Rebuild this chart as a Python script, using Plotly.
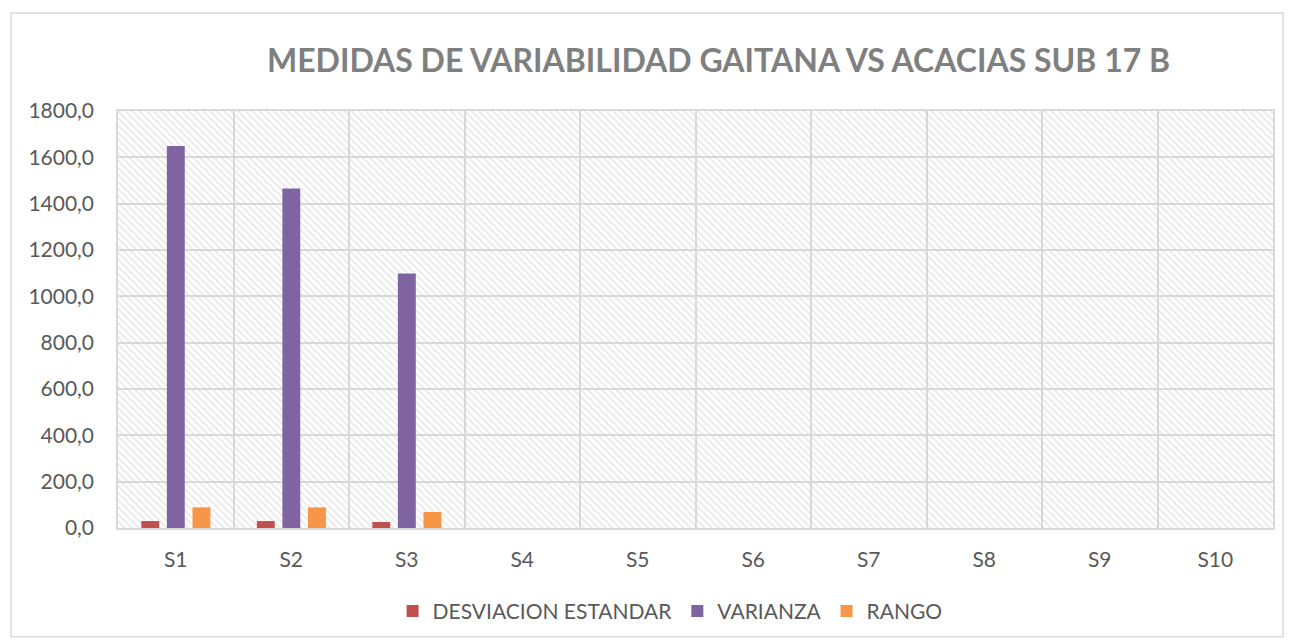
import plotly.graph_objects as go

categories = ["S1", "S2", "S3", "S4", "S5", "S6", "S7", "S8", "S9", "S10"]
desviacion = [30, 30, 26, None, None, None, None, None, None, None]
varianza = [1649, 1466, 1099, None, None, None, None, None, None, None]
rango = [89, 89, 69, None, None, None, None, None, None, None]
y_ticks = [0, 200, 400, 600, 800, 1000, 1200, 1400, 1600, 1800]

series = [
    ("DESVIACION ESTANDAR", desviacion, "#C0504D", -0.298),
    ("VARIANZA", varianza, "#8064A2", -0.077),
    ("RANGO", rango, "#F79646", 0.145),
]

fig = go.Figure()

# hatched plot-area background
fig.add_trace(go.Bar(
    x=categories, y=[max(y_ticks)] * len(categories), width=1.0, offset=-0.5,
    marker=dict(color="rgba(0,0,0,0)", line=dict(width=0),
                pattern=dict(shape="\\", fgcolor="#d4d4d4", bgcolor="rgba(0,0,0,0)",
                             size=5, solidity=0.35)),
    showlegend=False, hoverinfo="skip",
))

for name, vals, color, off in series:
    fig.add_trace(go.Bar(
        x=categories, y=vals, name=name, width=0.155, offset=off,
        marker=dict(color=color, line=dict(width=0)),
    ))

fig.update_layout(
    width=1290, height=644,
    barmode="overlay",
    separators=",.",
    paper_bgcolor="white", plot_bgcolor="white",
    margin=dict(l=118, r=17, t=111, b=116),
    title=dict(text="<b>MEDIDAS DE VARIABILIDAD GAITANA VS ACACIAS SUB 17 B</b>",
               x=0.557, xanchor="center", y=0.906, yanchor="middle",
               font=dict(family="Lato", size=32, color="#7f7f7f")),
    legend=dict(orientation="h", x=0.478, xanchor="center", y=-0.2, yanchor="middle",
                font=dict(family="Lato", size=21, color="#595959"),
                traceorder="normal", itemwidth=30),
    xaxis=dict(type="category", categoryorder="array", categoryarray=categories,
               tickson="boundaries", showgrid=True, gridcolor="#d9d9d9", gridwidth=1.5,
               showline=True, linecolor="#d9d9d9", linewidth=1.5, mirror=True,
               ticks="", ticklabelstandoff=12,
               tickfont=dict(family="Lato", size=21, color="#595959"),
               range=[-0.5, 9.5]),
    yaxis=dict(range=[0, 1800], tickvals=y_ticks, tickformat=".1f",
               showgrid=True, gridcolor="#d9d9d9", gridwidth=1.5,
               showline=True, linecolor="#d9d9d9", linewidth=1.5, mirror=True,
               zeroline=False, ticks="", ticklabelstandoff=18,
               tickfont=dict(family="Lato", size=21, color="#595959")),
    shapes=[dict(type="rect", xref="paper", yref="paper",
                 x0=-0.0926, x1=1.0087, y0=-0.261, y1=1.235,
                 line=dict(color="#d9d9d9", width=1.5), fillcolor="rgba(0,0,0,0)",
                 layer="below")],
)

fig.write_html("out.html", config={"displayModeBar": False},
               post_script="document.body.style.margin='0';document.body.style.overflow='hidden';")
